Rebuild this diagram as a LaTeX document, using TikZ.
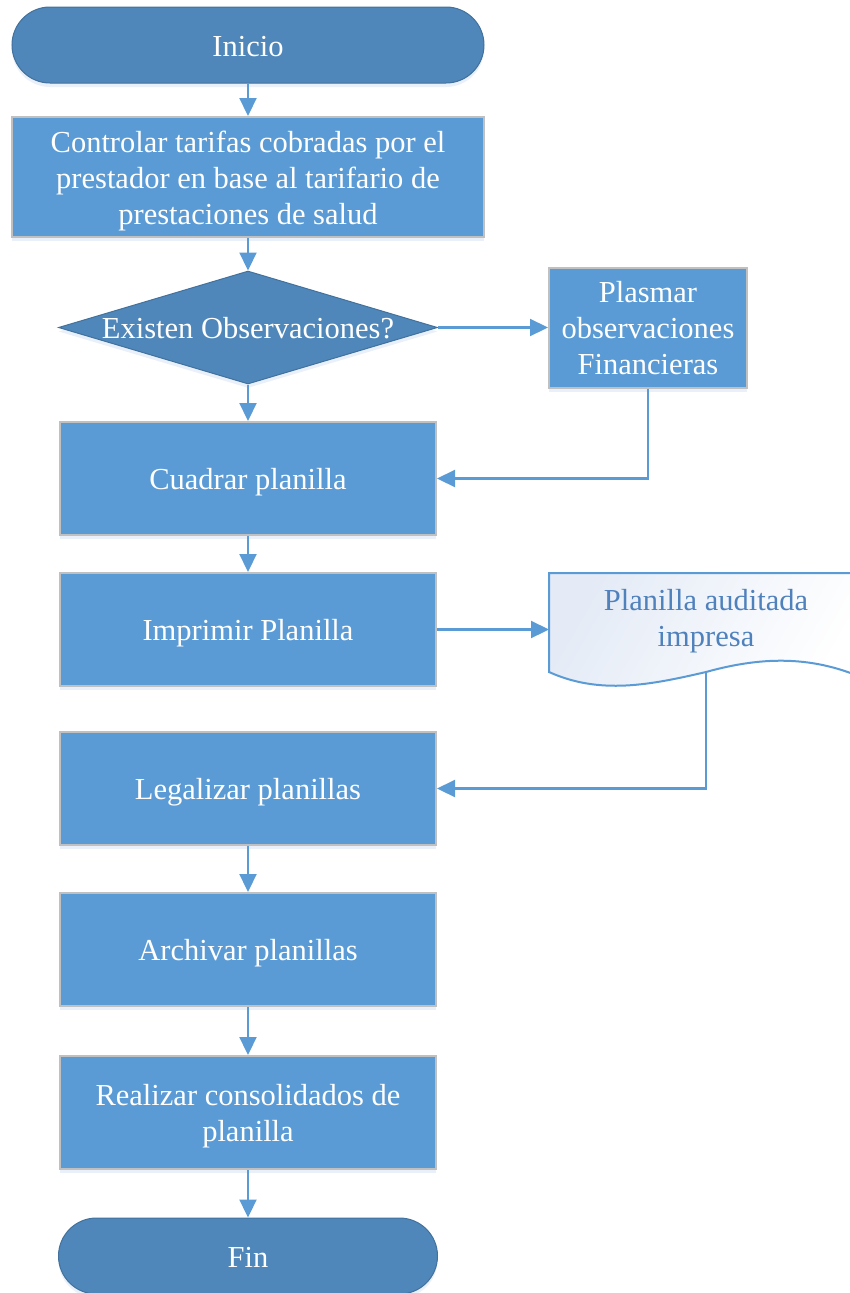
\documentclass[tikz,border=0pt]{standalone}
\usepackage{fontspec}
\setmainfont{Liberation Serif}
\usetikzlibrary{arrows.meta,shapes.geometric,shadows}

\definecolor{termFill}{HTML}{4F87BA}
\definecolor{termDraw}{HTML}{41719C}
\definecolor{boxFill}{HTML}{5B9BD5}
\definecolor{boxDraw}{HTML}{C0C0C0}
\definecolor{flowLine}{HTML}{5B9BD5}
\definecolor{docText}{HTML}{4F81BD}
\definecolor{docTop}{HTML}{E4EBF6}
\definecolor{glow}{HTML}{C8DAEF}

% fixed line box so every text block is centred the same way
\newcommand\lnstrut{\rule[-7pt]{0pt}{36pt}}

\begin{document}
\begin{tikzpicture}[x=1pt,y=-1pt,
  base/.style={font=\fontsize{30.5}{36}\selectfont, align=center, inner sep=0pt, text=white},
  softshadow/.style={drop shadow={shadow xshift=0pt, shadow yshift=-4pt, fill=glow, opacity=0.4}},
  terminal/.style={base, rectangle, rounded corners=38pt, fill=termFill, draw=termDraw,
    line width=1pt, minimum height=76pt, softshadow},
  process/.style={base, rectangle, fill=boxFill, draw=boxDraw, line width=2pt,
    minimum height=113pt, softshadow},
  decision/.style={base, diamond, fill=termFill, draw=termDraw, line width=1pt,
    minimum width=379pt, minimum height=113pt, softshadow},
  doctext/.style={base, text=docText},
  arr/.style={draw=flowLine, line width=2.2pt, -{Triangle[length=18pt,width=17pt]}}
]
\useasboundingbox (0,0) rectangle (850,1293);
\clip (0,0) rectangle (850,1293);

% main column
\node[terminal, minimum width=472pt] (start) at (248,45) {\lnstrut Inicio};
\node[process, minimum width=472pt, minimum height=120pt] (ctrl) at (248,177)
  {\lnstrut Controlar tarifas cobradas por el\\\lnstrut prestador en base al tarifario de\\\lnstrut prestaciones de salud};
\node[decision] (dec) at (248,327.5) {\makebox[0pt]{\lnstrut Existen Observaciones?}};
\node[process, minimum width=198pt, minimum height=120pt] (plas) at (648,327.5)
  {\lnstrut Plasmar\\\lnstrut observaciones\\\lnstrut Financieras};
\node[process, minimum width=376pt] (cuad) at (248,478.5) {\lnstrut Cuadrar planilla};
\node[process, minimum width=376pt] (impr) at (248,629.5) {\lnstrut Imprimir Planilla};
\node[process, minimum width=376pt] (leg) at (248,788.5) {\lnstrut Legalizar planillas};
\node[process, minimum width=376pt] (arch) at (248,949.5) {\lnstrut Archivar planillas};
\node[process, minimum width=376pt] (real) at (248,1112.5) {\lnstrut Realizar consolidados de\\\lnstrut planilla};
\node[terminal, minimum width=379pt] (fin) at (248,1256) {\lnstrut Fin};

% printed document
\shadedraw[draw=flowLine, line width=2pt, left color=docTop, right color=white, shading angle=60]
  (549,573) -- (863,573) -- (863,678)
  .. controls (810,655) and (760,657) .. (706,672)
  .. controls (650,685) and (600,695) .. (549,672) -- cycle;
\node[doctext] (doc) at (706,617) {\lnstrut Planilla auditada\\\lnstrut impresa};
\coordinate (docL) at (549,629.5);
\coordinate (docB) at (706,672);

% connectors
\draw[arr] (start) -- (ctrl);
\draw[arr] (ctrl) -- (dec);
\draw[arr] (dec.east) -- (dec.east -| plas.west);
\draw[arr] (dec.south) -- (cuad.north);
\draw[arr] (plas.south) |- (cuad.east);
\draw[arr] (cuad) -- (impr);
\draw[arr] (impr.east) -- (docL);
\draw[arr] (docB) |- (leg.east);
\draw[arr] (leg) -- (arch);
\draw[arr] (arch) -- (real);
\draw[arr] (real) -- (fin);
\end{tikzpicture}
\end{document}
